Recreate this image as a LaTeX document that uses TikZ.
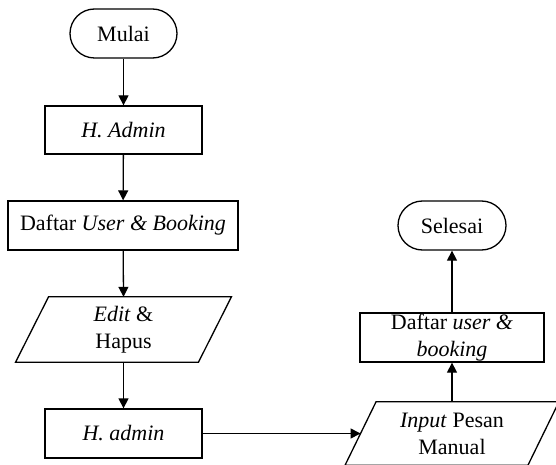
\documentclass[tikz,border=0pt]{standalone}
\usepackage{fontspec}
\setmainfont{Liberation Serif}
\usetikzlibrary{arrows.meta}
\begin{document}
\begin{tikzpicture}[x=1pt,y=-1pt,
  every node/.style={font=\fontsize{22}{27}\selectfont},
  line/.style={line width=1.3pt},
  term/.style={line, draw, rectangle, rounded corners=24.5pt, minimum height=49pt, inner sep=0pt},
  proc/.style={line, draw, rectangle, minimum height=49pt, inner sep=0pt, align=center},
  iobox/.style={rectangle, minimum height=65pt, minimum width=182.5pt, inner sep=0pt, align=center},
  flow/.style={line, -{Triangle[length=10pt,width=10pt]}}
]
\useasboundingbox (0,0) rectangle (556,465);

\node[term, minimum width=107pt] (mulai) at (123.5,33.5) {Mulai};
\node[proc, minimum width=157pt, minimum height=48pt] (hadmin) at (123.5,130) {\textit{H. Admin}};
\node[proc, minimum width=230pt] (daftar) at (123,225.5) {Daftar \textit{User \& Booking}};
\node[iobox] (edit) at (123.5,329.5) {\textit{Edit} \&\\Hapus};
\draw[line] ([xshift=16.5pt]edit.north west) -- ([xshift=16.5pt]edit.north east)
  -- ([xshift=-16.5pt]edit.south east) -- ([xshift=-16.5pt]edit.south west) -- cycle;
\node[proc, minimum width=157pt] (hadmin2) at (123.5,433.5) {\textit{H. admin}};

\node[iobox, minimum height=63pt] (input) at (452,433.5) {\textit{Input} Pesan\\Manual};
\draw[line] ([xshift=15.5pt]input.north west) -- ([xshift=15.5pt]input.north east)
  -- ([xshift=-15.5pt]input.south east) -- ([xshift=-15.5pt]input.south west) -- cycle;
\node[proc, minimum width=184pt] (daftar2) at (452,337.5) {Daftar \textit{user \&}\\\textit{booking}};
\node[term, minimum width=108pt] (selesai) at (452,225.5) {Selesai};

\draw[flow] (mulai) -- (hadmin);
\draw[flow] (hadmin) -- (daftar);
\draw[flow] (daftar) -- (edit.north);
\draw[flow] (edit.south) -- (hadmin2);
\draw[flow] (hadmin2.east) -- (input.west);
\draw[flow] (input.north) -- (daftar2);
\draw[flow] (daftar2) -- (selesai);
\end{tikzpicture}
\end{document}
